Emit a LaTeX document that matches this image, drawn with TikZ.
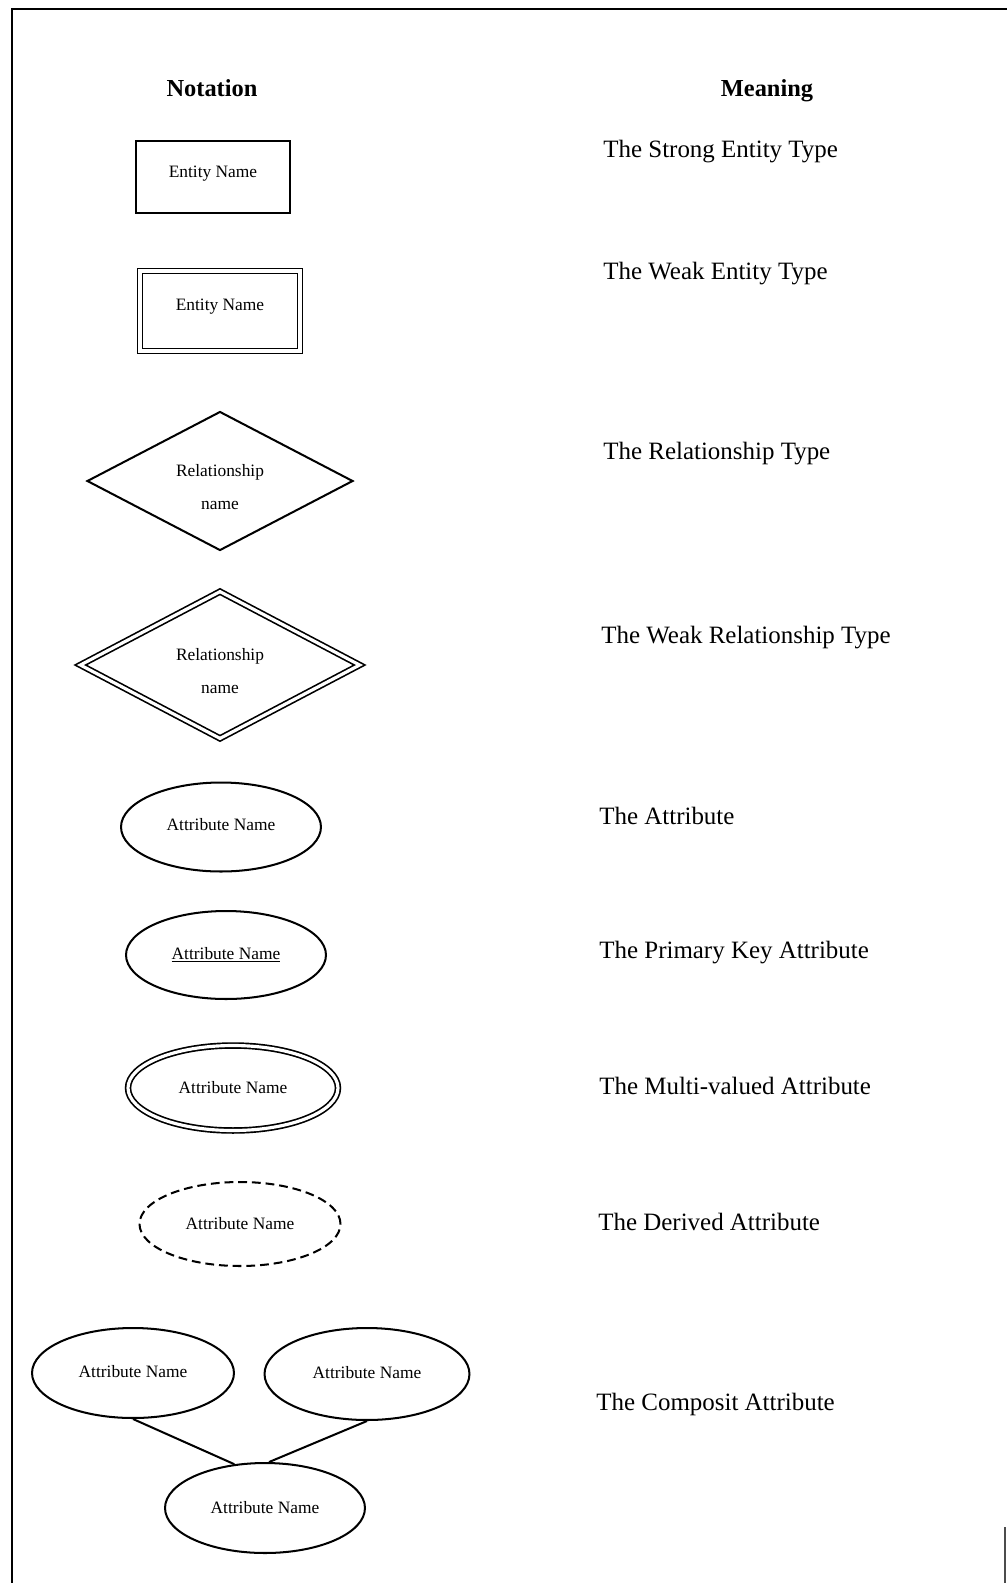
\documentclass[tikz,border=0pt]{standalone}
\usepackage{fontspec}
\setmainfont{Liberation Serif}
\usepackage{tikz}
\usetikzlibrary{calc,shapes.geometric}

\tikzset{
  header/.style={anchor=base,inner sep=0pt,font=\fontsize{13.9}{16}\selectfont\bfseries},
  meaning/.style={anchor=base west,inner sep=0pt,font=\fontsize{14.2}{16}\selectfont},
  lbl/.style={inner sep=0pt,font=\fontsize{9.9}{11}\selectfont},
  outline/.style={draw,line width=1.15pt,inner sep=0pt},
  entity/.style={outline,rectangle},
  relation/.style={outline,diamond},
  attr/.style={outline,ellipse,font=\fontsize{9.9}{11}\selectfont},
  twin/.style={double,double distance=1.8pt,line width=0.95pt},
}

\begin{document}
\begin{tikzpicture}[x=0.02cm,y=-0.02cm]
  \useasboundingbox (0,0) rectangle (1007,1583);

  %% Frame of the scanned page
  \draw[line width=1.2pt] (12,1583) -- (12,9) -- (1007,9);
  \draw[line width=0.8pt,black!70] (1005,1527) -- (1005,1583);

  %% Column headers
  \node[header] (NOTATION) at (212,96) {Notation};
  \node[header] (MEANING)  at (767,96) {Meaning};

  %% Entity types
  \node[entity,minimum width=3.1cm,minimum height=1.44cm] (E1) at (213,177) {};
  \node[lbl] (E1t) at ($(E1)+(0,-3)$) {Entity Name};
  \node[entity,twin,minimum width=3.2cm,minimum height=1.6cm] (E2) at (220,311) {};
  \node[lbl] (E2t) at ($(E2)+(0,-4)$) {Entity Name};

  %% Relationship types
  \node[relation,minimum width=5.32cm,minimum height=2.78cm] (R1) at (220,481) {};
  \node[lbl] (R1a) at ($(R1)+(0,-9)$) {Relationship};
  \node[lbl] (R1b) at ($(R1)+(0,24)$) {name};
  \node[relation,twin,minimum width=5.6cm,minimum height=2.95cm] (R2) at (220,665) {};
  \node[lbl] (R2a) at ($(R2)+(0,-9)$) {Relationship};
  \node[lbl] (R2b) at ($(R2)+(0,24)$) {name};

  %% Attributes
  \node[attr,minimum width=4cm,minimum height=1.78cm] (A1) at (221,827) {\raisebox{3pt}{Attribute Name}};
  \node[attr,minimum width=4cm,minimum height=1.76cm] (A2) at (226,955) {\underline{Attribute Name}};
  \node[attr,twin,minimum width=4.2cm,minimum height=1.7cm] (A3) at (233,1088) {Attribute Name};
  \node[attr,dash pattern=on 5pt off 2.8pt,minimum width=4.02cm,minimum height=1.68cm] (A4) at (240,1224) {Attribute Name};

  %% Composite attribute
  \node[attr,minimum width=4.04cm,minimum height=1.8cm] (AL) at (133,1373) {\raisebox{2pt}{Attribute Name}};
  \node[attr,minimum width=4.1cm,minimum height=1.84cm] (AR) at (367,1374) {\raisebox{2pt}{Attribute Name}};
  \node[attr,minimum width=4cm,minimum height=1.8cm] (AB) at (265,1508) {\raisebox{1pt}{Attribute Name}};
  \draw[line width=1.15pt] (AL.south) -- (AB.125);
  \draw[line width=1.15pt] (AR.south) -- (AB.85);

  %% Meaning column
  \foreach \x/\y/\txt [count=\i] in {603/157/The Strong Entity Type,
      603/279/The Weak Entity Type,
      603/459/The Relationship Type,
      601/643/The Weak Relationship Type,
      599/824/The Attribute,
      599/958/The Primary Key Attribute,
      599/1094/The Multi-valued Attribute,
      598/1230/The Derived Attribute,
      596/1410/The Composit Attribute}
  {
    \node[meaning] (M\i) at (\x,\y) {\txt};
  }

\end{tikzpicture}
\end{document}
